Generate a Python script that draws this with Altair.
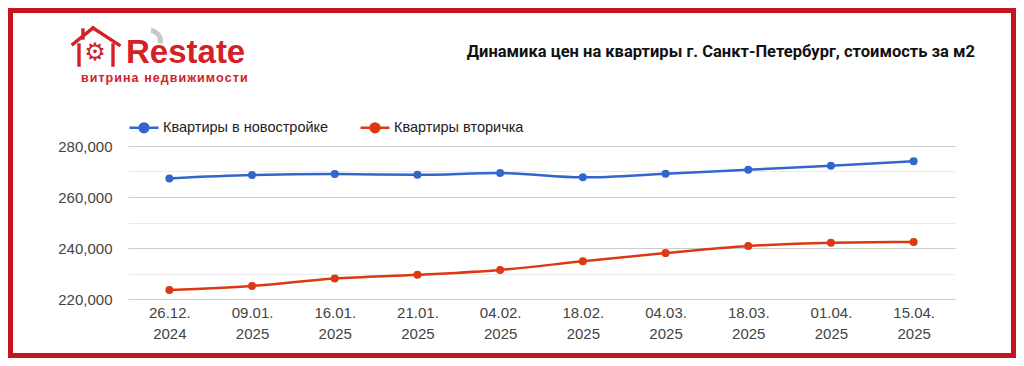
import altair as alt
import pandas as pd

# ---- data ----
dates = ["26.12. 2024", "09.01. 2025", "16.01. 2025", "21.01. 2025", "04.02. 2025",
         "18.02. 2025", "04.03. 2025", "18.03. 2025", "01.04. 2025", "15.04. 2025"]
series_names = ["Квартиры в новостройке", "Квартиры вторичка"]
new_build = [267300, 268600, 269000, 268700, 269400, 267700, 269100, 270700, 272300, 274000]
secondary = [223500, 225100, 228000, 229500, 231400, 234800, 238000, 240800, 242100, 242400]
y_ticks = [220000, 230000, 240000, 250000, 260000, 270000, 280000]
title_text = "Динамика цен на квартиры г. Санкт-Петербург, стоимость за м2"
logo_text = "Restate"
logo_sub = "витрина недвижимости"

colors = ["#3366cc", "#dc3912"]
RED = "#c4161c"
LOGO_RED = "#d42027"

rows = []
for d, v in zip(dates, new_build):
    rows.append({"date": d, "series": series_names[0], "value": v})
for d, v in zip(dates, secondary):
    rows.append({"date": d, "series": series_names[1], "value": v})
df = pd.DataFrame(rows)

W, H = 827, 153
one = pd.DataFrame({"t": [0]})

legend_path = ("M-1,0L1,0M-0.3,0a0.3,0.3 0 1,0 0.6,0"
               "a0.3,0.3 0 1,0 -0.6,0")

x_enc = alt.X("date:N", sort=dates, title=None,
              scale=alt.Scale(type="point", padding=0.5),
              axis=alt.Axis(labelExpr="split(datum.label, ' ')", labelAngle=0,
                            labelFontSize=15, labelColor="#444", labelFont="Arial",
                            labelLineHeight=21, labelPadding=6, ticks=False,
                            domain=False, grid=False))
y_enc = alt.Y("value:Q", title=None,
              scale=alt.Scale(domain=[y_ticks[0], y_ticks[-1]], nice=False, zero=False),
              axis=alt.Axis(values=y_ticks, format=",d",
                            labelExpr="datum.value % 20000 === 0 ? datum.label : ''",
                            labelFontSize=15, labelColor="#444", labelFont="Arial",
                            labelPadding=16, ticks=False, domain=False,
                            gridColor=alt.condition("datum.value % 20000 === 0",
                                                    alt.value("#cccccc"), alt.value("#ebebeb")),
                            gridWidth=1))
color_enc = alt.Color("series:N", sort=series_names,
                      scale=alt.Scale(domain=series_names, range=colors),
                      legend=alt.Legend(title=None, orient="none", direction="horizontal",
                                        legendX=0, legendY=-34.5, padding=0,
                                        symbolType=legend_path, symbolSize=841,
                                        symbolStrokeWidth=2.5, labelFontSize=14.5,
                                        labelFont="Arial", labelColor="#222",
                                        labelLimit=0, labelOffset=3, columnPadding=26))

base = alt.Chart(df)
lines = base.mark_line(strokeWidth=2.5, interpolate="monotone").encode(
    x=x_enc, y=y_enc, color=color_enc)
points = base.mark_point(filled=True, size=64, opacity=1).encode(
    x=x_enc, y=y_enc, color=alt.Color("series:N", sort=series_names,
                                      scale=alt.Scale(domain=series_names, range=colors),
                                      legend=None))

def seg(x1, y1, x2, y2, w=3.4):
    return alt.Chart(one).mark_rule(color=LOGO_RED, strokeWidth=w, strokeCap="square").encode(
        x=alt.value(x1), y=alt.value(y1), x2=alt.value(x2), y2=alt.value(y2))

border = alt.Chart(one).mark_rect(fillOpacity=0, stroke=RED, strokeWidth=5).encode(
    x=alt.value(-117.5), x2=alt.value(885.5), y=alt.value(-135.5), y2=alt.value(209.5))

title = alt.Chart(pd.DataFrame({"t": [title_text]})).mark_text(
    align="right", baseline="alphabetic", fontSize=16.5, fontWeight="bold",
    font="Roboto, Liberation Sans, sans-serif",
    color="#111111").encode(x=alt.value(847), y=alt.value(-89), text="t:N")

swoosh = alt.Chart(one).mark_arc(radius=13, radius2=8, theta=0.1, theta2=1.8,
                                 color="#c8c8c8").encode(x=alt.value(22), y=alt.value(-105))

logo = alt.Chart(pd.DataFrame({"t": [logo_text]})).mark_text(
    align="left", baseline="alphabetic", fontSize=33, fontWeight="bold",
    font="Arial, Liberation Sans", color=LOGO_RED).encode(
    x=alt.value(-2), y=alt.value(-83), text="t:N")

spaced_sub = "\u200a".join(logo_sub)
logo2 = alt.Chart(pd.DataFrame({"t": [spaced_sub]})).mark_text(
    align="left", baseline="alphabetic", fontSize=12.5, fontWeight="bold",
    font="Arial, Liberation Sans", color=LOGO_RED).encode(
    x=alt.value(-47), y=alt.value(-64), text="t:N")

gear = alt.Chart(pd.DataFrame({"t": ["⚙"]})).mark_text(
    align="center", baseline="middle", fontSize=24, font="DejaVu Sans",
    color=LOGO_RED).encode(x=alt.value(-33), y=alt.value(-93), text="t:N")

house = [
    seg(-55, -102, -35, -118),
    seg(-35, -118, -9, -101),
    seg(-49, -101, -49, -81),
    seg(-15, -101, -15, -81),
    seg(-45, -116, -45, -108),
]

chart = alt.layer(border, title, swoosh, logo, logo2, gear, *house, lines, points).properties(
    width=W, height=H,
    autosize=alt.AutoSizeParams(type="none"),
    padding={"left": 120, "top": 138, "right": 61, "bottom": 59},
    background="white",
).configure_view(strokeWidth=0)

chart.save("out.html", embed_options={"renderer": "svg", "actions": False})
